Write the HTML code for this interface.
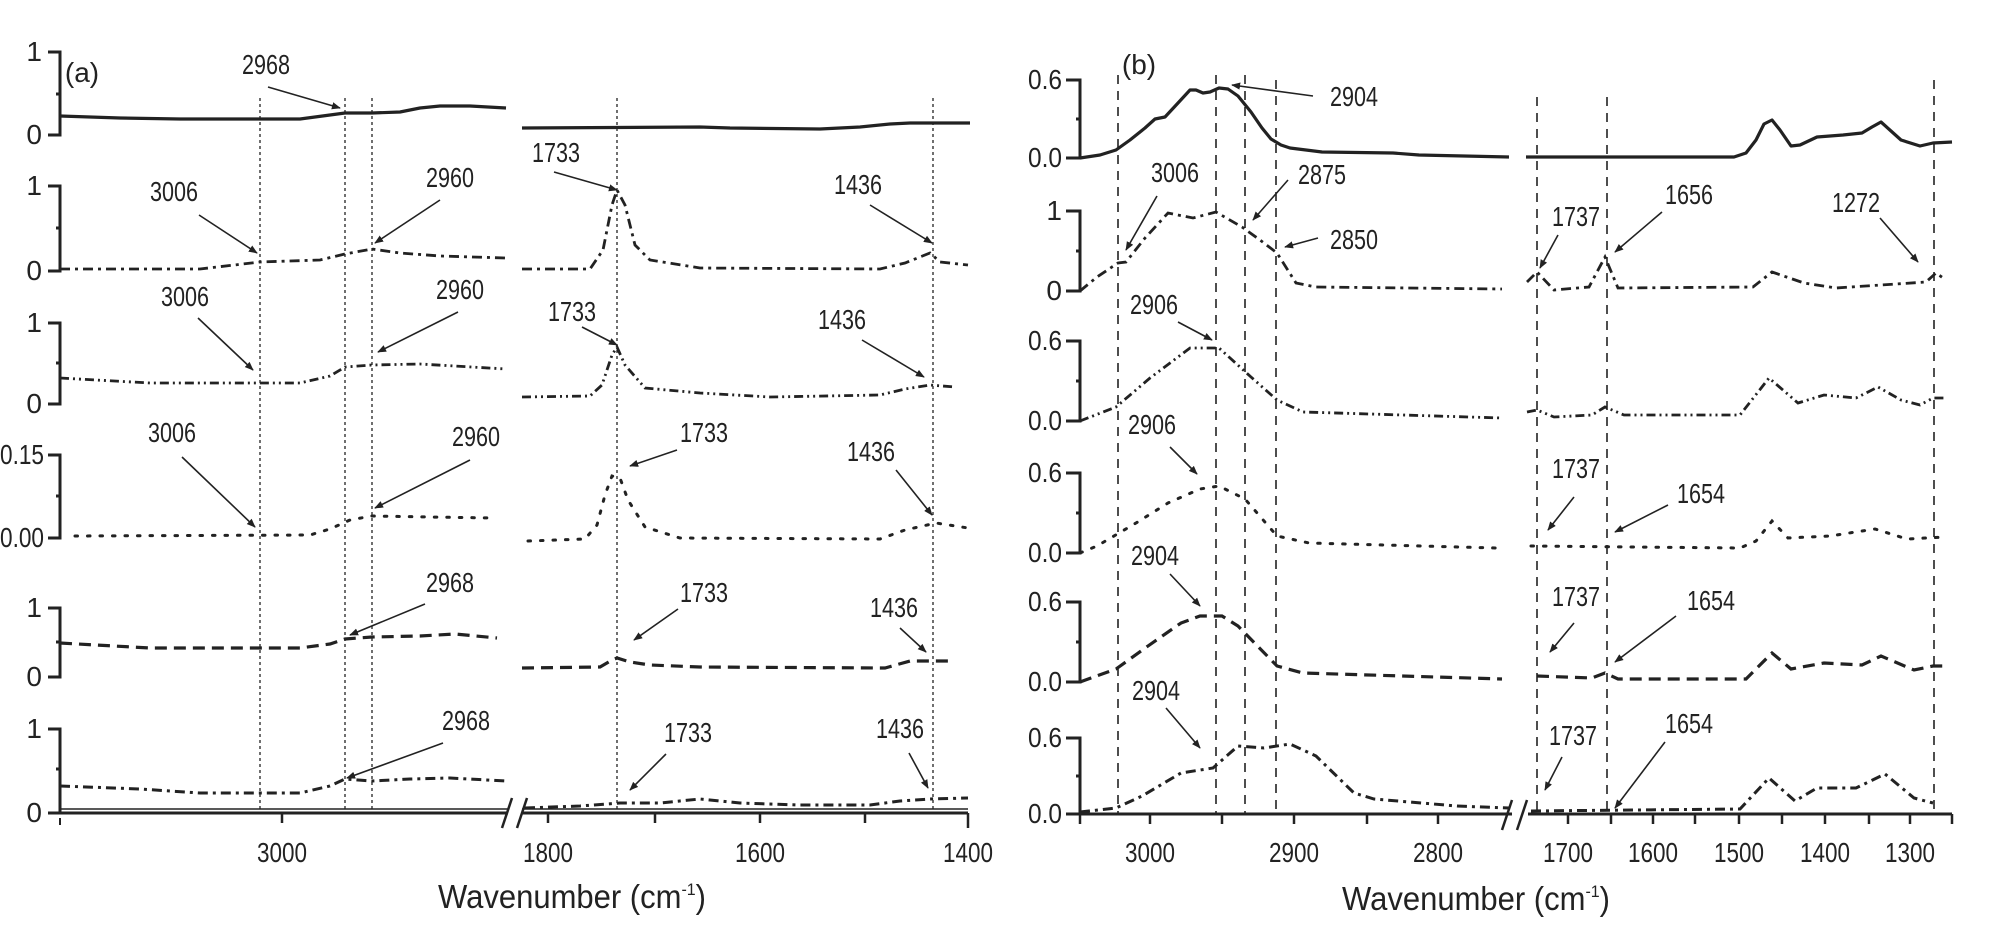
<!DOCTYPE html>
<html><head><meta charset="utf-8"><style>
html,body{margin:0;padding:0;background:#fff;}
svg{display:block}
text{font-family:"Liberation Sans Narrow","Liberation Sans",sans-serif;fill:#222;}
</style></head><body>
<svg width="2014" height="932" viewBox="0 0 2014 932" xmlns="http://www.w3.org/2000/svg">
<defs>
<marker id="ah" viewBox="0 0 10 10" refX="9" refY="5" markerWidth="9" markerHeight="9" markerUnits="userSpaceOnUse" orient="auto">
<path d="M0,1 L10,5 L0,9 z" fill="#222"/></marker>
</defs>
<g stroke="#222" fill="none">
<g stroke-width="1.3" stroke-dasharray="3,3">
<line x1="260" y1="98" x2="260" y2="813"/><line x1="345" y1="98" x2="345" y2="813"/><line x1="372" y1="98" x2="372" y2="813"/>
<line x1="617" y1="98" x2="617" y2="813"/><line x1="933" y1="98" x2="933" y2="813"/>
</g>
<g stroke-width="1.6" stroke-dasharray="9,7">
<line x1="1118" y1="75" x2="1118" y2="814"/><line x1="1216" y1="75" x2="1216" y2="814"/><line x1="1245" y1="75" x2="1245" y2="814"/><line x1="1276" y1="80" x2="1276" y2="814"/>
<line x1="1537" y1="97" x2="1537" y2="814"/><line x1="1607" y1="97" x2="1607" y2="814"/><line x1="1934" y1="80" x2="1934" y2="814"/>
</g>
<g stroke-width="3">
<path d="M48,52 H60 V135 H48 M60,94 H56"/>
<path d="M48,186 H60 V271 H48 M60,228 H56"/>
<path d="M48,323 H60 V404 H48 M60,363 H56"/>
<path d="M48,455 H60 V538 H48 M60,496 H56"/>
<path d="M48,608 H60 V677 H48 M60,642 H56"/>
<path d="M48,729 H60 V813"/>
<path d="M60,769 H56"/>
<line x1="48" y1="813" x2="508" y2="813"/><line x1="60" y1="818" x2="60" y2="825" stroke-width="2"/>
<line x1="522" y1="813" x2="968" y2="813"/>
<line x1="60" y1="809" x2="508" y2="809" stroke-width="1.5"/><line x1="522" y1="809" x2="968" y2="809" stroke-width="1.5"/>
</g>
<g stroke-width="2.5">
<line x1="282" y1="813" x2="282" y2="823"/><line x1="548" y1="813" x2="548" y2="823"/><line x1="655" y1="813" x2="655" y2="823"/><line x1="760" y1="813" x2="760" y2="823"/><line x1="865" y1="813" x2="865" y2="823"/><line x1="968" y1="813" x2="968" y2="828"/>
<line x1="502" y1="828" x2="512" y2="798"/><line x1="517" y1="828" x2="527" y2="798"/>
</g>
<g stroke-width="3">
<path d="M1066,80 H1080 V158 H1066 M1080,119 H1076"/>
<path d="M1066,211 H1080 V291 H1066 M1080,251 H1076"/>
<path d="M1066,341 H1080 V421 H1066 M1080,381 H1076"/>
<path d="M1066,473 H1080 V553 H1066 M1080,513 H1076"/>
<path d="M1066,602 H1080 V682 H1066 M1080,642 H1076"/>
<path d="M1066,738 H1080 V814 H1066 M1080,776 H1076"/>
<line x1="1080" y1="814" x2="1512" y2="814"/><line x1="1528" y1="814" x2="1952" y2="814"/>
</g>
<g stroke-width="2.5">
<line x1="1080" y1="814" x2="1080" y2="824"/>
<line x1="1150" y1="814" x2="1150" y2="824"/><line x1="1222" y1="814" x2="1222" y2="824"/><line x1="1294" y1="814" x2="1294" y2="824"/><line x1="1367" y1="814" x2="1367" y2="824"/><line x1="1438" y1="814" x2="1438" y2="824"/>
<line x1="1568" y1="814" x2="1568" y2="824"/><line x1="1611" y1="814" x2="1611" y2="824"/><line x1="1653" y1="814" x2="1653" y2="824"/><line x1="1695" y1="814" x2="1695" y2="824"/><line x1="1739" y1="814" x2="1739" y2="824"/><line x1="1782" y1="814" x2="1782" y2="824"/><line x1="1825" y1="814" x2="1825" y2="824"/><line x1="1869" y1="814" x2="1869" y2="824"/><line x1="1910" y1="814" x2="1910" y2="824"/><line x1="1952" y1="814" x2="1952" y2="824"/>
<line x1="1502" y1="830" x2="1512" y2="800"/><line x1="1517" y1="830" x2="1527" y2="800"/>
</g>

<g stroke-width="3.2" stroke-linejoin="round">
<path d="M60,116 L120,118 L180,119 L300,119 L330,115 L345,113 L372,113 L400,112 L420,108 L440,106 L470,106 L506,108"/>
<path d="M522,128 L700,127 L730,128 L820,129 L860,127 L890,124 L910,123 L970,123"/>
</g>
<g stroke-width="2.8" stroke-dasharray="10,5,3,5">
<path d="M60,269 L200,269 L260,262 L320,260 L345,254 L372,249 L400,253 L440,256 L506,258"/>
<path d="M522,269 L590,269 L603,250 L612,205 L617,190 L625,205 L635,245 L650,260 L700,268 L880,269 L905,263 L930,253 L940,262 L968,265"/>
</g>
<g stroke-width="2.8" stroke-dasharray="9,4,2,4,2,4">
<path d="M60,378 L150,383 L300,383 L330,376 L345,367 L372,365 L420,364 L506,369"/>
<path d="M522,397 L590,396 L602,385 L612,355 L617,347 L625,365 L645,388 L700,393 L770,397 L880,395 L905,389 L930,385 L955,387"/>
</g>
<g stroke-width="3" stroke-dasharray="2.5,10" stroke-linecap="round">
<path d="M75,536 L310,535 L330,529 L350,520 L372,516 L430,517 L493,518"/>
<path d="M528,541 L585,539 L597,525 L605,495 L612,476 L620,478 L628,500 L645,527 L680,538 L880,539 L905,530 L936,523 L968,528"/>
</g>
<g stroke-width="3.2" stroke-dasharray="12,7">
<path d="M60,643 L150,648 L300,648 L330,644 L345,639 L372,637 L420,636 L455,634 L497,638"/>
<path d="M522,668 L600,667 L612,660 L617,658 L630,662 L650,665 L700,667 L885,668 L910,661 L950,661"/>
</g>
<g stroke-width="3" stroke-dasharray="10,5,3,5">
<path d="M60,786 L140,789 L200,793 L300,793 L330,786 L345,779 L372,781 L410,779 L450,778 L506,781"/>
<path d="M525,808 L580,806 L620,803 L660,803 L700,799 L740,803 L800,805 L870,805 L900,801 L930,799 L968,798"/>
</g>

<g stroke-width="3.2" stroke-linejoin="round">
<path d="M1080,158 L1100,155 L1116,150 L1130,140 L1145,128 L1155,119 L1165,117 L1178,103 L1190,90 L1196,90 L1203,93 L1210,92 L1219,88 L1228,89 L1238,96 L1251,112 L1262,128 L1271,139 L1281,145 L1290,148 L1322,152 L1393,153 L1419,155 L1509,157"/>
<path d="M1526,157 L1734,157 L1746,153 L1756,140 L1764,124 L1772,120 L1780,130 L1791,146 L1800,145 L1817,137 L1843,135 L1862,133 L1872,127 L1881,122 L1891,131 L1901,140 L1920,146 L1933,143 L1952,142"/>
</g>
<g stroke-width="2.8" stroke-dasharray="10,5,3,5">
<path d="M1080,291 L1097,277 L1118,263 L1126,262 L1145,238 L1168,213 L1193,218 L1216,212 L1242,227 L1260,240 L1277,253 L1296,283 L1316,287 L1502,289"/>
<path d="M1527,282 L1537,272 L1554,290 L1589,287 L1605,257 L1618,288 L1753,287 L1772,272 L1804,283 L1836,288 L1926,282 L1936,273 L1946,280"/>
</g>
<g stroke-width="2.8" stroke-dasharray="9,4,2,4,2,4">
<path d="M1080,421 L1116,407 L1150,378 L1190,348 L1219,348 L1251,377 L1277,400 L1303,412 L1502,418"/>
<path d="M1527,412 L1537,410 L1554,417 L1592,415 L1605,407 L1624,415 L1740,415 L1769,378 L1798,403 L1824,395 L1856,398 L1878,387 L1901,400 L1920,405 L1933,398 L1946,398"/>
</g>
<g stroke-width="3" stroke-dasharray="2.5,10" stroke-linecap="round">
<path d="M1080,553 L1097,546 L1136,523 L1168,503 L1200,489 L1219,486 L1245,499 L1277,536 L1309,543 L1496,548"/>
<path d="M1531,546 L1740,548 L1756,541 L1772,521 L1788,538 L1830,536 L1875,529 L1907,539 L1946,537"/>
</g>
<g stroke-width="3.2" stroke-dasharray="12,7">
<path d="M1080,682 L1116,669 L1148,646 L1181,623 L1200,616 L1222,616 L1238,626 L1277,666 L1303,673 L1502,679"/>
<path d="M1537,676 L1592,678 L1605,673 L1618,679 L1746,679 L1772,653 L1791,669 L1824,663 L1862,665 L1881,656 L1914,670 L1933,666 L1949,666"/>
</g>
<g stroke-width="3" stroke-dasharray="10,5,3,5">
<path d="M1080,812 L1116,808 L1142,796 L1181,773 L1213,768 L1238,746 L1264,748 L1290,744 L1316,756 L1354,793 L1374,799 L1457,806 L1509,808"/>
<path d="M1531,811 L1740,809 L1769,778 L1795,801 L1817,788 L1856,788 L1885,774 L1914,798 L1933,803"/>
</g>

<g stroke-width="1.6" marker-end="url(#ah)">
<line x1="268" y1="87" x2="340" y2="108"/>
<line x1="554" y1="172" x2="617" y2="190"/>
<line x1="870" y1="205" x2="932" y2="243"/>
<line x1="199" y1="215" x2="257" y2="253"/>
<line x1="440" y1="200" x2="375" y2="243"/>
<line x1="198" y1="318" x2="253" y2="370"/>
<line x1="458" y1="312" x2="378" y2="352"/>
<line x1="582" y1="327" x2="617" y2="345"/>
<line x1="862" y1="340" x2="924" y2="377"/>
<line x1="182" y1="457" x2="255" y2="527"/>
<line x1="470" y1="460" x2="375" y2="508"/>
<line x1="677" y1="450" x2="630" y2="466"/>
<line x1="896" y1="470" x2="932" y2="515"/>
<line x1="425" y1="604" x2="350" y2="635"/>
<line x1="678" y1="609" x2="634" y2="640"/>
<line x1="900" y1="628" x2="926" y2="652"/>
<line x1="443" y1="743" x2="347" y2="778"/>
<line x1="666" y1="754" x2="630" y2="790"/>
<line x1="909" y1="753" x2="928" y2="788"/>

<line x1="1313" y1="96" x2="1232" y2="85"/>
<line x1="1157" y1="196" x2="1126" y2="250"/>
<line x1="1288" y1="180" x2="1253" y2="220"/>
<line x1="1318" y1="238" x2="1285" y2="247"/>
<line x1="1558" y1="235" x2="1540" y2="268"/>
<line x1="1662" y1="212" x2="1615" y2="252"/>
<line x1="1880" y1="218" x2="1918" y2="262"/>
<line x1="1178" y1="322" x2="1212" y2="340"/>
<line x1="1170" y1="447" x2="1197" y2="474"/>
<line x1="1574" y1="497" x2="1548" y2="530"/>
<line x1="1668" y1="505" x2="1615" y2="532"/>
<line x1="1170" y1="574" x2="1200" y2="606"/>
<line x1="1574" y1="623" x2="1550" y2="652"/>
<line x1="1676" y1="616" x2="1615" y2="662"/>
<line x1="1166" y1="708" x2="1200" y2="748"/>
<line x1="1562" y1="757" x2="1545" y2="790"/>
<line x1="1665" y1="742" x2="1615" y2="808"/>
</g>
</g>

<g font-size="28" text-anchor="end" lengthAdjust="spacingAndGlyphs">
<text x="42" y="61">1</text><text x="42" y="144">0</text>
<text x="42" y="195">1</text><text x="42" y="280">0</text>
<text x="42" y="332">1</text><text x="42" y="413">0</text>
<text x="44" y="464" textLength="44" lengthAdjust="spacingAndGlyphs">0.15</text><text x="44" y="547" textLength="44" lengthAdjust="spacingAndGlyphs">0.00</text>
<text x="42" y="617">1</text><text x="42" y="686">0</text>
<text x="42" y="738">1</text><text x="42" y="822">0</text>
<text x="1062" y="89" textLength="34" lengthAdjust="spacingAndGlyphs">0.6</text><text x="1062" y="167" textLength="34" lengthAdjust="spacingAndGlyphs">0.0</text>
<text x="1062" y="220">1</text><text x="1062" y="300">0</text>
<text x="1062" y="350" textLength="34" lengthAdjust="spacingAndGlyphs">0.6</text><text x="1062" y="430" textLength="34" lengthAdjust="spacingAndGlyphs">0.0</text>
<text x="1062" y="482" textLength="34" lengthAdjust="spacingAndGlyphs">0.6</text><text x="1062" y="562" textLength="34" lengthAdjust="spacingAndGlyphs">0.0</text>
<text x="1062" y="611" textLength="34" lengthAdjust="spacingAndGlyphs">0.6</text><text x="1062" y="691" textLength="34" lengthAdjust="spacingAndGlyphs">0.0</text>
<text x="1062" y="747" textLength="34" lengthAdjust="spacingAndGlyphs">0.6</text><text x="1062" y="823" textLength="34" lengthAdjust="spacingAndGlyphs">0.0</text>
</g>
<g font-size="28" text-anchor="middle">
<g lengthAdjust="spacingAndGlyphs">
<text x="282" y="862" textLength="50" lengthAdjust="spacingAndGlyphs">3000</text><text x="548" y="862" textLength="50" lengthAdjust="spacingAndGlyphs">1800</text><text x="760" y="862" textLength="50" lengthAdjust="spacingAndGlyphs">1600</text><text x="968" y="862" textLength="50" lengthAdjust="spacingAndGlyphs">1400</text>
<text x="1150" y="862" textLength="50" lengthAdjust="spacingAndGlyphs">3000</text><text x="1294" y="862" textLength="50" lengthAdjust="spacingAndGlyphs">2900</text><text x="1438" y="862" textLength="50" lengthAdjust="spacingAndGlyphs">2800</text>
<text x="1568" y="862" textLength="50" lengthAdjust="spacingAndGlyphs">1700</text><text x="1653" y="862" textLength="50" lengthAdjust="spacingAndGlyphs">1600</text><text x="1739" y="862" textLength="50" lengthAdjust="spacingAndGlyphs">1500</text><text x="1825" y="862" textLength="50" lengthAdjust="spacingAndGlyphs">1400</text><text x="1910" y="862" textLength="50" lengthAdjust="spacingAndGlyphs">1300</text>
</g>
<text x="82" y="82">(a)</text>
<text x="1139" y="74">(b)</text>
<g>
<text x="266" y="74" textLength="48" lengthAdjust="spacingAndGlyphs">2968</text>
<text x="556" y="162" textLength="48" lengthAdjust="spacingAndGlyphs">1733</text>
<text x="858" y="194" textLength="48" lengthAdjust="spacingAndGlyphs">1436</text>
<text x="174" y="201" textLength="48" lengthAdjust="spacingAndGlyphs">3006</text>
<text x="450" y="187" textLength="48" lengthAdjust="spacingAndGlyphs">2960</text>
<text x="185" y="306" textLength="48" lengthAdjust="spacingAndGlyphs">3006</text>
<text x="460" y="299" textLength="48" lengthAdjust="spacingAndGlyphs">2960</text>
<text x="572" y="321" textLength="48" lengthAdjust="spacingAndGlyphs">1733</text>
<text x="842" y="329" textLength="48" lengthAdjust="spacingAndGlyphs">1436</text>
<text x="172" y="442" textLength="48" lengthAdjust="spacingAndGlyphs">3006</text>
<text x="476" y="446" textLength="48" lengthAdjust="spacingAndGlyphs">2960</text>
<text x="704" y="442" textLength="48" lengthAdjust="spacingAndGlyphs">1733</text>
<text x="871" y="461" textLength="48" lengthAdjust="spacingAndGlyphs">1436</text>
<text x="450" y="592" textLength="48" lengthAdjust="spacingAndGlyphs">2968</text>
<text x="704" y="602" textLength="48" lengthAdjust="spacingAndGlyphs">1733</text>
<text x="894" y="617" textLength="48" lengthAdjust="spacingAndGlyphs">1436</text>
<text x="466" y="730" textLength="48" lengthAdjust="spacingAndGlyphs">2968</text>
<text x="688" y="742" textLength="48" lengthAdjust="spacingAndGlyphs">1733</text>
<text x="900" y="738" textLength="48" lengthAdjust="spacingAndGlyphs">1436</text>
<text x="1354" y="106" textLength="48" lengthAdjust="spacingAndGlyphs">2904</text>
<text x="1175" y="182" textLength="48" lengthAdjust="spacingAndGlyphs">3006</text>
<text x="1322" y="184" textLength="48" lengthAdjust="spacingAndGlyphs">2875</text>
<text x="1354" y="249" textLength="48" lengthAdjust="spacingAndGlyphs">2850</text>
<text x="1576" y="226" textLength="48" lengthAdjust="spacingAndGlyphs">1737</text>
<text x="1689" y="204" textLength="48" lengthAdjust="spacingAndGlyphs">1656</text>
<text x="1856" y="212" textLength="48" lengthAdjust="spacingAndGlyphs">1272</text>
<text x="1154" y="314" textLength="48" lengthAdjust="spacingAndGlyphs">2906</text>
<text x="1152" y="434" textLength="48" lengthAdjust="spacingAndGlyphs">2906</text>
<text x="1576" y="478" textLength="48" lengthAdjust="spacingAndGlyphs">1737</text>
<text x="1701" y="503" textLength="48" lengthAdjust="spacingAndGlyphs">1654</text>
<text x="1155" y="565" textLength="48" lengthAdjust="spacingAndGlyphs">2904</text>
<text x="1576" y="606" textLength="48" lengthAdjust="spacingAndGlyphs">1737</text>
<text x="1711" y="610" textLength="48" lengthAdjust="spacingAndGlyphs">1654</text>
<text x="1156" y="700" textLength="48" lengthAdjust="spacingAndGlyphs">2904</text>
<text x="1573" y="745" textLength="48" lengthAdjust="spacingAndGlyphs">1737</text>
<text x="1689" y="733" textLength="48" lengthAdjust="spacingAndGlyphs">1654</text>
</g>
</g>
<g font-size="33" text-anchor="middle">
<text x="572" y="908" textLength="268" lengthAdjust="spacingAndGlyphs">Wavenumber (cm<tspan font-size="17" dy="-13">-1</tspan><tspan dy="13">)</tspan></text>
<text x="1476" y="910" textLength="268" lengthAdjust="spacingAndGlyphs">Wavenumber (cm<tspan font-size="17" dy="-13">-1</tspan><tspan dy="13">)</tspan></text>
</g>
</svg>
</body></html>
